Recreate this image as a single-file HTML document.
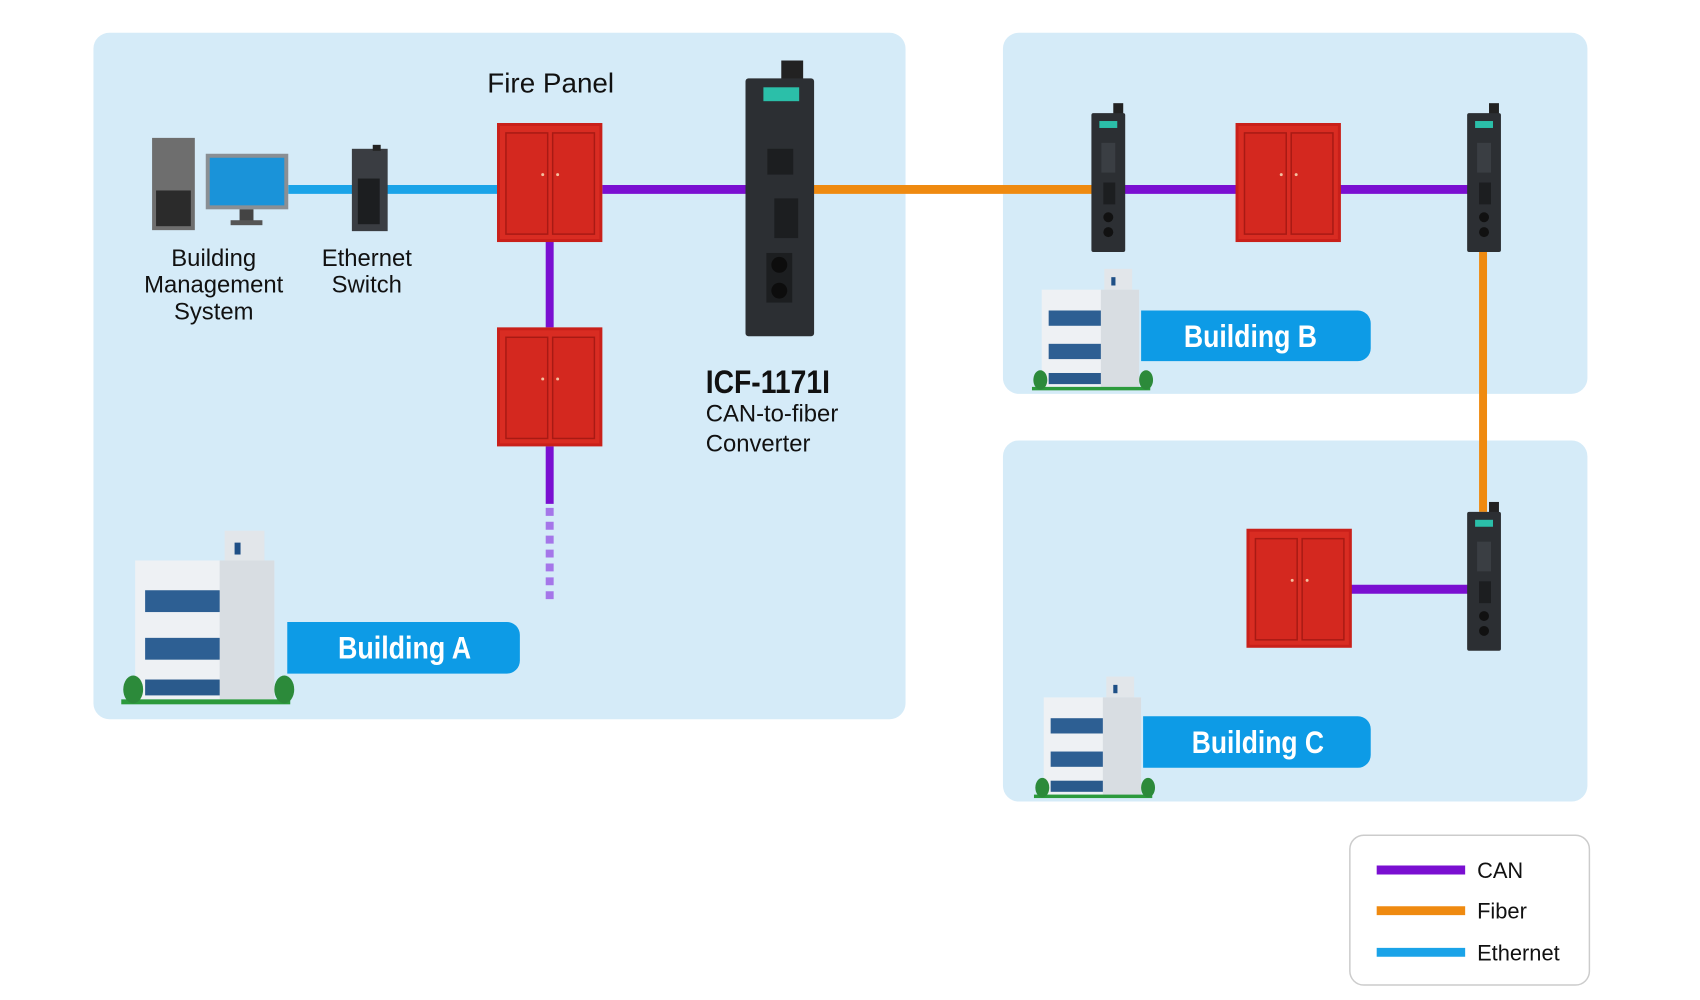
<!DOCTYPE html>
<html><head><meta charset="utf-8"><style>
html,body{margin:0;padding:0;background:#fff;}
svg{display:block}
text{font-family:"Liberation Sans",sans-serif;}
.n{font-family:"Liberation Sans",sans-serif;font-weight:bold;}
</style></head><body>
<svg width="1700" height="1000" viewBox="0 0 1700 1000" xmlns="http://www.w3.org/2000/svg">
<defs>
<g id="door">
<rect x="0" y="0" width="106" height="120" fill="#c9201a"/>
<rect x="3" y="3" width="100" height="114" fill="#d92c22"/>
<rect x="9" y="10" width="42" height="102" fill="#d4281f" stroke="#a81a14" stroke-width="1.5"/>
<rect x="56" y="10" width="42" height="102" fill="#d4281f" stroke="#a81a14" stroke-width="1.5"/>
<circle cx="46" cy="52" r="1.5" fill="#f3c0a0"/><circle cx="61" cy="52" r="1.5" fill="#f3c0a0"/>
</g>
<g id="dev">
<rect x="22" y="-10" width="10" height="12" fill="#222"/>
<rect x="0" y="0" width="34" height="140" rx="2" fill="#2c2f33"/>
<rect x="8" y="8" width="18" height="7" fill="#2bbfa9"/>
<rect x="10" y="30" width="14" height="30" fill="#3a3e43"/>
<rect x="12" y="70" width="12" height="22" fill="#1c1e20"/>
<circle cx="17" cy="105" r="5" fill="#111"/><circle cx="17" cy="120" r="5" fill="#111"/>
</g>
<g id="bld">
<rect x="0" y="30" width="140" height="140" fill="#eef1f4"/>
<rect x="90" y="0" width="40" height="30" fill="#e2e6ea"/>
<rect x="100" y="12" width="6" height="12" fill="#1e4f86"/>
<rect x="10" y="60" width="120" height="22" fill="#2d5f93"/>
<rect x="10" y="108" width="120" height="22" fill="#2d5f93"/>
<rect x="10" y="150" width="120" height="16" fill="#2a5a8c"/>
<rect x="85" y="30" width="55" height="140" fill="#d8dde2"/>
<rect x="-14" y="170" width="170" height="5" fill="#2c9a3c"/>
<ellipse cx="-2" cy="160" rx="10" ry="14" fill="#2c8a3a"/>
<ellipse cx="150" cy="160" rx="10" ry="14" fill="#2c8a3a"/>
</g>
</defs>
<g transform="scale(0.994,0.992)">
<rect x="94" y="33" width="817" height="692" rx="16" fill="#d5ebf8"/>
<rect x="1009" y="33" width="588" height="364" rx="16" fill="#d5ebf8"/>
<rect x="1009" y="444" width="588" height="364" rx="16" fill="#d5ebf8"/>
<line x1="290" y1="191" x2="500" y2="191" stroke="#1aa3e8" stroke-width="9"/>
<line x1="606" y1="191" x2="752" y2="191" stroke="#7a0fd1" stroke-width="9"/>
<line x1="817" y1="191" x2="1100" y2="191" stroke="#ef8a10" stroke-width="9"/>
<line x1="1130" y1="191" x2="1245" y2="191" stroke="#7a0fd1" stroke-width="9"/>
<line x1="1346" y1="191" x2="1478" y2="191" stroke="#7a0fd1" stroke-width="9"/>
<line x1="1492" y1="254" x2="1492" y2="516" stroke="#ef8a10" stroke-width="8"/>
<line x1="1357" y1="594" x2="1478" y2="594" stroke="#7a0fd1" stroke-width="9"/>
<line x1="553" y1="244" x2="553" y2="330" stroke="#7a0fd1" stroke-width="8"/>
<line x1="553" y1="450" x2="553" y2="508" stroke="#7a0fd1" stroke-width="8"/>
<line x1="553" y1="512" x2="553" y2="604" stroke="#9a5ae6" stroke-width="8" stroke-dasharray="8,6" opacity="0.8"/>
<use href="#door" x="500" y="124"/>
<use href="#door" x="500" y="330"/>
<use href="#door" x="1243" y="124"/>
<use href="#door" x="1254" y="533"/>
<rect x="786" y="61" width="22" height="20" fill="#222"/>
<rect x="750" y="79" width="69" height="260" rx="3" fill="#2c2f33"/>
<rect x="768" y="88" width="36" height="14" fill="#2bbfa9"/>
<rect x="772" y="150" width="26" height="26" fill="#1c1e20"/>
<rect x="779" y="200" width="24" height="40" fill="#1c1e20"/>
<rect x="771" y="255" width="26" height="50" fill="#1c1e20"/>
<circle cx="784" cy="267" r="8" fill="#0d0d0d"/><circle cx="784" cy="293" r="8" fill="#0d0d0d"/>
<use href="#dev" x="1098" y="114"/>
<use href="#dev" x="1476" y="114"/>
<use href="#dev" x="1476" y="516"/>
<rect x="153" y="139" width="43" height="93" fill="#6e6e6e"/>
<rect x="157" y="192" width="35" height="36" fill="#2b2b2b"/>
<rect x="207" y="155" width="83" height="56" fill="#8a8f94"/>
<rect x="211" y="159" width="75" height="48" fill="#1a93d9"/>
<rect x="241" y="211" width="14" height="12" fill="#444"/>
<rect x="232" y="222" width="32" height="5" fill="#555"/>
<rect x="354" y="150" width="36" height="83" fill="#3a3d42"/>
<rect x="360" y="180" width="22" height="46" fill="#1c1e20"/>
<rect x="375" y="146" width="8" height="6" fill="#222"/>
<use href="#bld" x="136" y="535"/>
<g transform="translate(1048,271) scale(0.7)"><use href="#bld"/></g>
<g transform="translate(1050,682) scale(0.7)"><use href="#bld"/></g>
<path d="M289 627 H510 a13 13 0 0 1 13 13 V666 a13 13 0 0 1 -13 13 H289 Z" fill="#0d9be6"/>
<path d="M1148 313 H1366 a13 13 0 0 1 13 13 V351 a13 13 0 0 1 -13 13 H1148 Z" fill="#0d9be6"/>
<path d="M1150 722 H1366 a13 13 0 0 1 13 13 V761 a13 13 0 0 1 -13 13 H1150 Z" fill="#0d9be6"/>
<text class="n" x="340" y="664" font-size="32" fill="#fff" textLength="134" lengthAdjust="spacingAndGlyphs">Building A</text>
<text class="n" x="1191" y="350" font-size="32" fill="#fff" textLength="134" lengthAdjust="spacingAndGlyphs">Building B</text>
<text class="n" x="1199" y="759" font-size="32" fill="#fff" textLength="133" lengthAdjust="spacingAndGlyphs">Building C</text>
<text x="554" y="93" font-size="28" text-anchor="middle" fill="#111">Fire Panel</text>
<g font-size="24" fill="#111" text-anchor="middle">
<text x="215" y="268">Building</text><text x="215" y="295">Management</text><text x="215" y="322">System</text>
<text x="369" y="268">Ethernet</text><text x="369" y="295">Switch</text>
</g>
<text class="n" x="710" y="396" font-size="33" fill="#111" textLength="125" lengthAdjust="spacingAndGlyphs">ICF-1171I</text>
<text x="710" y="425" font-size="24" fill="#111">CAN-to-fiber</text>
<text x="710" y="455" font-size="24" fill="#111">Converter</text>
<rect x="1358" y="842" width="241" height="151" rx="14" fill="#fff" stroke="#ccc" stroke-width="1.5"/>
<line x1="1385" y1="877" x2="1474" y2="877" stroke="#7a0fd1" stroke-width="9"/>
<line x1="1385" y1="918" x2="1474" y2="918" stroke="#ef8a10" stroke-width="9"/>
<line x1="1385" y1="960" x2="1474" y2="960" stroke="#1aa3e8" stroke-width="9"/>
<g font-size="22" fill="#111"><text x="1486" y="885">CAN</text><text x="1486" y="926">Fiber</text><text x="1486" y="968">Ethernet</text></g>
</g>
</svg>
</body></html>
